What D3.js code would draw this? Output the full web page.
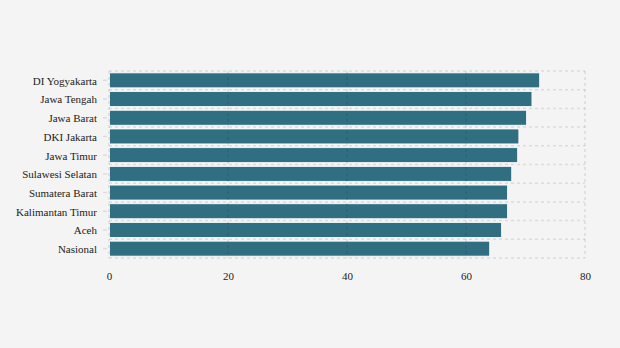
<!DOCTYPE html>
<html>
<head>
<meta charset="utf-8">
<script src="https://cdn.jsdelivr.net/npm/d3@7"></script>
<style>
  html, body { margin: 0; padding: 0; background: #f4f4f4; }
  svg { display: block; }
</style>
</head>
<body>
<svg id="chart" width="620" height="348"></svg>
<script>
// Provinces, top to bottom
const categories = [
  "DI Yogyakarta", "Jawa Tengah", "Jawa Barat", "DKI Jakarta", "Jawa Timur",
  "Sulawesi Selatan", "Sumatera Barat", "Kalimantan Timur", "Aceh", "Nasional"
];
const values = [72.3, 71.0, 70.1, 68.8, 68.6, 67.6, 66.9, 66.9, 65.9, 63.9];
const xTicks = [0, 20, 40, 60, 80];

const FONT = "Liberation Serif";

const W = 620, H = 348;
const margin = { top: 71, right: 35, bottom: 90, left: 109 };
const iw = W - margin.left - margin.right;
const ih = H - margin.top - margin.bottom;

const svg = d3.select("#chart");
const g = svg.append("g").attr("transform", `translate(${margin.left},${margin.top})`);

const x = d3.scaleLinear().domain([0, 80]).range([0, iw]);
const y = d3.scaleBand().domain(categories).range([0, ih]).paddingInner(0.2).paddingOuter(0.1);

// Horizontal grid lines at band boundaries
const bounds = d3.range(categories.length + 1).map(i => i * ih / categories.length);
g.append("g").selectAll("line").data(bounds).join("line")
  .attr("x1", 0).attr("x2", iw)
  .attr("y1", d => d).attr("y2", d => d)
  .attr("stroke", "#dcdcdc").attr("stroke-width", 1.5)
  .attr("stroke-dasharray", "3,3");

// Bars
g.append("g").selectAll("rect").data(values).join("rect")
  .attr("x", x(0) + 0.5)
  .attr("y", (d, i) => y(categories[i]))
  .attr("width", d => x(d) - x(0))
  .attr("height", y.bandwidth())
  .attr("fill", "#306f82")
  .attr("stroke", "#ffffff").attr("stroke-width", 0.8);

// Vertical grid lines, drawn over the bars
g.append("g").selectAll("line").data(xTicks).join("line")
  .attr("x1", d => x(d)).attr("x2", d => x(d))
  .attr("y1", 0).attr("y2", ih)
  .attr("stroke", "rgba(0,0,0,0.1)").attr("stroke-width", 1.5)
  .attr("stroke-dasharray", "3,3");

// Y axis labels and tick marks
const yAxis = d3.axisLeft(y).tickSize(5).tickPadding(7);
const ya = g.append("g").call(yAxis)
  .attr("font-family", FONT).attr("font-size", 11);
ya.select(".domain").remove();
ya.selectAll(".tick line").attr("stroke", "#dddddd").attr("stroke-width", 1.5).attr("x2", -2).attr("x1", -6);
ya.selectAll(".tick text").attr("fill", "#222").attr("dy", "0.4em");

// X axis labels
const xAxis = d3.axisBottom(x).tickValues(xTicks).tickSize(0).tickPadding(14);
const xa = g.append("g").attr("transform", `translate(0,${ih})`).call(xAxis)
  .attr("font-family", FONT).attr("font-size", 11);
xa.select(".domain").remove();
xa.selectAll(".tick text").attr("fill", "#222");
</script>
</body>
</html>
